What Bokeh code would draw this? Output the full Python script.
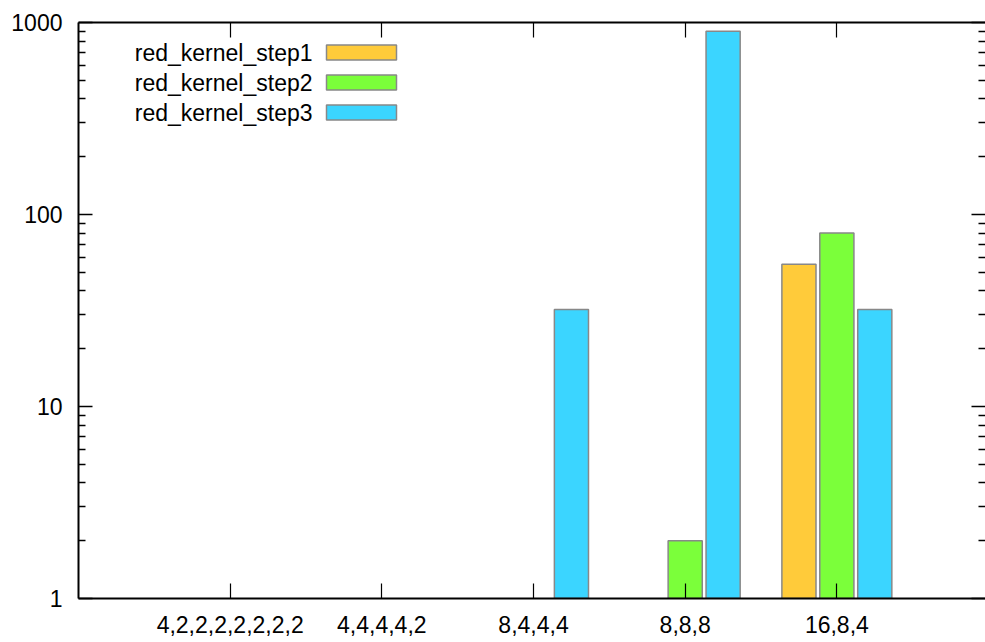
import math
from bokeh.plotting import figure
from bokeh.models import (Range1d, FixedTicker, LinearAxis, LogAxis, Label,
                          BoxAnnotation, NumeralTickFormatter)
from bokeh.embed import file_html
from bokeh.resources import INLINE

# ---- data ----
categories = ["4,2,2,2,2,2,2,2", "4,4,4,4,2", "8,4,4,4", "8,8,8", "16,8,4"]
series_names = ["red_kernel_step1", "red_kernel_step2", "red_kernel_step3"]
step1 = [None, None, None, None, 55]
step2 = [None, None, None, 2, 80]
step3 = [None, None, 32, 900, 32]
y_ticks = [1, 10, 100, 1000]

# ---- styles ----
colors = ["#ffcb3a", "#7bff3a", "#3bd5ff"]
outline = "#888888"
FONT = "Liberation Sans"
FS = "23px"

p = figure(width=985, height=642, output_backend="svg", toolbar_location=None,
           x_range=Range1d(-1, 4.98), y_range=Range1d(1, 1000),
           y_axis_type="log", x_axis_type="linear",
           min_border_left=78, min_border_top=22, min_border_right=0,
           min_border_bottom=44)
p.outline_line_color = None
p.xgrid.visible = False
p.ygrid.visible = False
p.background_fill_color = "white"
p.border_fill_color = "white"

x_idx = list(range(len(categories)))
bw = 0.225
offsets = [-0.25, 0.0, 0.25]
for vals, off, col in zip([step1, step2, step3], offsets, colors):
    xs = [i + off for i, v in zip(x_idx, vals) if v is not None]
    tops = [v for v in vals if v is not None]
    p.vbar(x=xs, top=tops, bottom=1, width=bw, fill_color=col,
           line_color=outline, line_width=1.5)

minor = [m * 10 ** k for k in range(3) for m in range(2, 10)]
yticker = FixedTicker(ticks=y_ticks, minor_ticks=minor)
xticker = FixedTicker(ticks=x_idx, minor_ticks=[])

# bottom axis
xa = p.xaxis[0]
xa.ticker = xticker
xa.major_label_overrides = {i: c for i, c in zip(x_idx, categories)}
xa.major_tick_in = 15
xa.major_tick_out = 0
xa.minor_tick_in = 0
xa.minor_tick_out = 0
xa.axis_line_width = 2
xa.axis_line_color = "black"
xa.major_tick_line_color = "black"
xa.major_tick_line_width = 1.2
xa.major_label_standoff = 17
xa.major_label_text_font = FONT
xa.major_label_text_font_size = FS
xa.major_label_text_color = "black"

# left axis
ya = p.yaxis[0]
ya.ticker = yticker
ya.formatter = NumeralTickFormatter(format="0")
ya.major_tick_in = 14
ya.major_tick_out = 0
ya.minor_tick_in = 7
ya.minor_tick_out = 0
ya.axis_line_width = 2
ya.axis_line_color = "black"
ya.major_tick_line_color = "black"
ya.minor_tick_line_color = "black"
ya.major_tick_line_width = 1.5
ya.minor_tick_line_width = 1.5
ya.major_label_standoff = 16
ya.major_label_text_font = FONT
ya.major_label_text_font_size = FS
ya.major_label_text_color = "black"

# top mirror axis
ta = LinearAxis(ticker=xticker, major_label_text_font_size="0px",
                major_label_standoff=0, major_tick_in=15, major_tick_out=0,
                minor_tick_in=0, minor_tick_out=0, axis_line_width=2,
                axis_line_color="black", major_tick_line_width=1.2)
ta.major_label_overrides = {i: "" for i in x_idx}
p.add_layout(ta, "above")

# right mirror axis
ra = LogAxis(ticker=yticker, major_label_text_font_size="0px",
             major_label_standoff=0, major_tick_in=14, major_tick_out=0,
             minor_tick_in=7, minor_tick_out=0, axis_line_color=None,
             major_tick_line_width=1.5, minor_tick_line_width=1.5)
ra.major_label_overrides = {t: "" for t in y_ticks}
p.add_layout(ra, "right")

# legend (text then swatch), screen units relative to frame
row_y = [546, 516, 486]
for name, col, yy in zip(series_names, colors, row_y):
    p.add_layout(Label(x=234, y=yy, x_units="screen", y_units="screen",
                       text=name, text_align="right", text_baseline="middle",
                       text_font=FONT, text_font_size=FS, text_color="black"))
    p.add_layout(BoxAnnotation(left=248, right=318, bottom=yy - 7.5, top=yy + 7.5,
                               left_units="screen", right_units="screen",
                               bottom_units="screen", top_units="screen",
                               fill_color=col, fill_alpha=1.0,
                               line_color=outline, line_width=1.5, line_alpha=1.0))

open("out.html", "w").write(file_html(p, INLINE))
